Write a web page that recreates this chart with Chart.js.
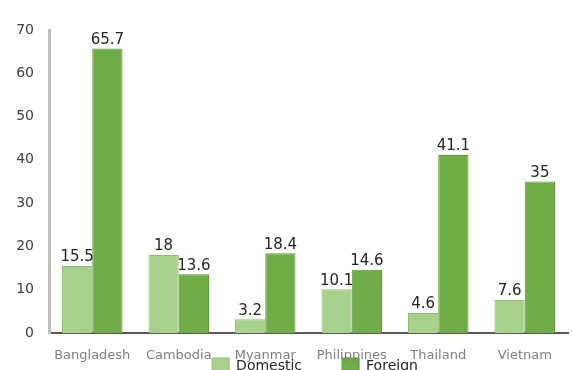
<!DOCTYPE html>
<html>
<head>
<meta charset="utf-8">
<script src="https://cdn.jsdelivr.net/npm/chart.js@4.4.1/dist/chart.umd.min.js"></script>
<style>
  html, body { margin: 0; padding: 0; background: #fff; }
  #wrap { width: 572px; height: 370px; position: relative; }
</style>
</head>
<body>
<div id="wrap"><canvas id="chart"></canvas></div>
<script>
const countries = ['Bangladesh', 'Cambodia', 'Myanmar', 'Philippines', 'Thailand', 'Vietnam'];
const domestic = [15.5, 18, 3.2, 10.1, 4.6, 7.6];
const foreign = [65.7, 13.6, 18.4, 14.6, 41.1, 35];
const yTicks = [0, 10, 20, 30, 40, 50, 60, 70];

const fontFamily = '"DejaVu Sans", sans-serif';

// value labels above each bar
const valueLabels = {
    id: 'valueLabels',
    afterDatasetsDraw(chart) {
        const ctx = chart.ctx;
        ctx.save();
        ctx.font = '15px ' + fontFamily;
        ctx.fillStyle = '#262626';
        ctx.textAlign = 'center';
        ctx.textBaseline = 'bottom';
        chart.data.datasets.forEach((ds, i) => {
            chart.getDatasetMeta(i).data.forEach((bar, j) => {
                ctx.fillText(String(ds.data[j]), bar.x, bar.y - 1);
            });
        });
        ctx.restore();
    }
};

// legend sits low, overlapping the category labels like the original
const legendShift = {
    id: 'legendShift',
    beforeDraw(chart) {
        const lg = chart.legend;
        if (!lg) return;
        const dx = 31;
        lg.top = 358 - lg.options.labels.padding;
        lg.bottom = chart.height;
        lg.left += dx; lg.right += dx;
    }
};

new Chart(document.getElementById('chart'), {
    type: 'bar',
    data: {
        labels: countries,
        datasets: [
            {
                label: 'Domestic',
                data: domestic,
                backgroundColor: '#a9d18e',
                borderColor: '#93bd78',
                borderWidth: 1
            },
            {
                label: 'Foreign',
                data: foreign,
                backgroundColor: '#70ad47',
                borderColor: '#5e9a38',
                borderWidth: 1
            }
        ]
    },
    options: {
        responsive: true,
        maintainAspectRatio: false,
        animation: false,
        layout: { padding: { top: 30, right: 4, left: 0, bottom: 0 } },
        datasets: {
            bar: { categoryPercentage: 0.7, barPercentage: 1.0 }
        },
        scales: {
            x: {
                grid: { display: false, drawTicks: false },
                border: { display: true, color: '#595959', width: 2 },
                ticks: {
                    color: '#7f7f7f',
                    font: { family: fontFamily, size: 13 },
                    padding: 15,
                    maxRotation: 0,
                    autoSkip: false
                },
                afterFit(scale) { scale.height = 36; }
            },
            y: {
                min: 0,
                max: 70,
                grid: { display: false, drawTicks: false },
                border: { display: true, color: '#bfbfbf', width: 3 },
                ticks: {
                    stepSize: 10,
                    color: '#404040',
                    font: { family: fontFamily, size: 14 },
                    padding: 15,
                    callback: (v) => yTicks.includes(v) ? v : ''
                },
                afterFit(scale) { scale.width = 49; }
            }
        },
        plugins: {
            legend: {
                position: 'bottom',
                maxHeight: 1,
                labels: {
                    boxWidth: 17,
                    boxHeight: 17,
                    padding: 40,
                    color: '#262626',
                    font: { family: fontFamily, size: 14 }
                }
            },
            tooltip: { enabled: false }
        }
    },
    plugins: [valueLabels, legendShift]
});
</script>
</body>
</html>
